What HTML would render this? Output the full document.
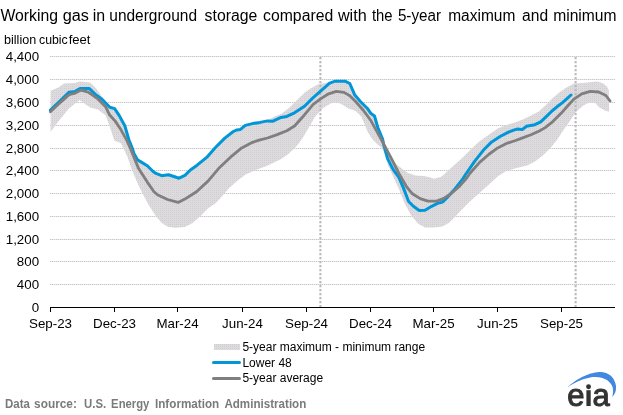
<!DOCTYPE html>
<html><head><meta charset="utf-8"><title>Working gas in underground storage</title>
<style>
html,body{margin:0;padding:0;background:#fff;}
body{width:623px;height:415px;overflow:hidden;font-family:"Liberation Sans",sans-serif;}
svg{display:block;font-family:"Liberation Sans",sans-serif;will-change:transform;}
</style></head><body>
<svg width="623" height="415" viewBox="0 0 623 415">
<defs>
<pattern id="dots" width="2" height="2" patternUnits="userSpaceOnUse"><rect width="2" height="2" fill="#dddddd"/><rect x="0" y="0" width="1" height="1" fill="#d3c9d8"/><rect x="1" y="1" width="1" height="1" fill="#d9dcd9"/></pattern>
</defs>
<rect width="623" height="415" fill="#fff"/>
<g font-size="16" fill="#000"><text x="0.40" y="21" textLength="57.60" lengthAdjust="spacingAndGlyphs">Working</text><text x="62.80" y="21" textLength="26.20" lengthAdjust="spacingAndGlyphs">gas</text><text x="92.80" y="21" textLength="12.40" lengthAdjust="spacingAndGlyphs">in</text><text x="109.30" y="21" textLength="87.70" lengthAdjust="spacingAndGlyphs">underground</text><text x="204.60" y="21" textLength="52.70" lengthAdjust="spacingAndGlyphs">storage</text><text x="263.10" y="21" textLength="70.10" lengthAdjust="spacingAndGlyphs">compared</text><text x="337.90" y="21" textLength="28.80" lengthAdjust="spacingAndGlyphs">with</text><text x="371.90" y="21" textLength="20.60" lengthAdjust="spacingAndGlyphs">the</text><text x="397.90" y="21" textLength="43.10" lengthAdjust="spacingAndGlyphs">5-year</text><text x="448.20" y="21" textLength="67.10" lengthAdjust="spacingAndGlyphs">maximum</text><text x="522.10" y="21" textLength="26.00" lengthAdjust="spacingAndGlyphs">and</text><text x="553.20" y="21" textLength="63.30" lengthAdjust="spacingAndGlyphs">minimum</text></g>
<g font-size="12" fill="#000"><text x="4.00" y="44" textLength="32.20" lengthAdjust="spacingAndGlyphs">billion</text><text x="39.00" y="44" textLength="28.70" lengthAdjust="spacingAndGlyphs">cubic</text><text x="68.70" y="44" textLength="21.80" lengthAdjust="spacingAndGlyphs">feet</text></g>
<g stroke="#e9e9e9" stroke-width="1" shape-rendering="crispEdges"><line x1="50" x2="615" y1="56.5" y2="56.5"/><line x1="50" x2="615" y1="79.5" y2="79.5"/><line x1="50" x2="615" y1="102.5" y2="102.5"/><line x1="50" x2="615" y1="125.5" y2="125.5"/><line x1="50" x2="615" y1="148.5" y2="148.5"/><line x1="50" x2="615" y1="170.5" y2="170.5"/><line x1="50" x2="615" y1="193.5" y2="193.5"/><line x1="50" x2="615" y1="216.5" y2="216.5"/><line x1="50" x2="615" y1="239.5" y2="239.5"/><line x1="50" x2="615" y1="261.5" y2="261.5"/><line x1="50" x2="615" y1="284.5" y2="284.5"/></g><g stroke="#c6c6c6" stroke-width="1" stroke-dasharray="1,1" shape-rendering="crispEdges"><line x1="50" x2="615" y1="56.5" y2="56.5"/><line x1="50" x2="615" y1="79.5" y2="79.5"/><line x1="50" x2="615" y1="102.5" y2="102.5"/><line x1="50" x2="615" y1="125.5" y2="125.5"/><line x1="50" x2="615" y1="148.5" y2="148.5"/><line x1="50" x2="615" y1="170.5" y2="170.5"/><line x1="50" x2="615" y1="193.5" y2="193.5"/><line x1="50" x2="615" y1="216.5" y2="216.5"/><line x1="50" x2="615" y1="239.5" y2="239.5"/><line x1="50" x2="615" y1="261.5" y2="261.5"/><line x1="50" x2="615" y1="284.5" y2="284.5"/></g>
<polygon points="50.6,90.8 58.3,87.4 64.1,83.5 74.7,83.1 79.6,81.6 90.2,82.5 96.0,88.3 103.7,98.9 109.5,107.0 114.3,109.5 119.1,116.5 124.9,126.5 128.8,140.0 133.8,153.5 137.6,160.5 147.3,166.3 153.1,172.0 161.7,176.2 168.5,175.5 179.1,178.8 184.9,176.0 190.4,170.8 197.1,166.0 206.7,158.2 215.2,148.5 224.8,138.9 233.3,132.3 236.9,130.7 240.5,130.2 245.3,126.2 252.5,124.2 260.0,122.8 267.5,120.5 273.3,117.0 281.0,114.1 288.8,108.3 296.5,100.6 304.5,92.8 311.2,88.0 318.9,84.1 326.7,82.8 335.3,81.5 345.0,81.5 349.8,84.0 354.6,95.0 360.4,102.0 367.2,108.8 371.0,114.0 374.5,116.5 377.8,128.0 382.6,139.5 384.7,148.9 392.4,161.5 400.2,167.3 407.9,173.1 415.6,175.4 423.3,176.0 429.1,176.9 433.9,178.8 440.7,176.9 443.4,175.0 453.1,166.0 462.7,157.6 471.2,149.1 479.6,141.3 488.1,135.3 497.7,128.6 506.0,125.1 515.6,122.2 523.3,119.3 531.0,115.4 538.8,111.6 546.5,104.5 552.3,98.5 558.6,93.0 566.3,87.5 574.0,83.6 581.7,82.9 589.4,82.2 597.2,81.5 603.0,83.2 607.3,87.0 608.9,90.5 609.1,111.7 604.9,110.5 599.1,107.3 594.3,102.0 589.4,102.4 583.7,105.3 575.9,112.1 570.1,120.8 562.4,131.4 558.0,138.6 550.3,148.2 542.6,155.8 534.9,161.6 527.2,165.4 515.6,168.3 506.0,171.2 498.2,176.0 488.6,184.7 478.9,193.4 469.3,202.1 459.6,211.7 454.9,216.9 449.1,222.7 442.4,226.6 433.7,227.5 425.0,227.5 418.2,223.7 411.5,216.0 404.7,203.4 398.9,188.9 393.2,176.4 388.3,165.8 384.5,153.5 381.6,147.8 378.0,144.8 373.8,141.0 370.5,136.6 367.5,131.6 364.5,124.0 361.3,116.6 355.6,111.0 347.9,108.2 342.1,104.4 336.3,102.1 330.5,103.4 322.8,108.2 315.1,116.5 308.3,128.5 302.5,138.3 296.5,146.3 288.0,154.3 281.2,159.0 273.5,162.8 266.0,166.2 257.0,169.5 246.0,174.2 238.6,179.8 228.9,188.2 219.3,199.5 215.8,203.0 208.0,208.6 200.3,216.3 192.6,223.1 184.9,226.9 175.2,227.7 167.7,226.7 161.5,222.8 155.8,216.1 149.0,205.5 142.5,193.6 137.0,182.0 131.9,169.8 127.5,157.0 121.0,143.3 114.3,140.4 109.5,126.0 105.6,115.3 97.9,109.6 90.2,107.6 83.4,102.8 79.6,99.9 68.9,108.6 59.3,120.2 53.5,127.9 50.6,131.7" fill="url(#dots)"/>
<g stroke="#bababa" stroke-width="2.1" stroke-dasharray="2.3,1.7" fill="none"><line x1="320.4" x2="320.4" y1="57" y2="307"/><line x1="575.6" x2="575.6" y1="57" y2="307"/></g>
<polyline points="50.4,110.2 60.7,100.3 69.1,92.2 75.2,91.4 80.0,88.6 89.4,88.6 95.0,94.1 102.0,99.2 109.8,107.3 114.6,108.6 119.3,115.6 124.9,126.0 128.8,139.5 132.6,149.1 133.8,153.2 137.6,159.9 147.3,165.7 153.1,171.5 156.0,173.4 161.7,175.7 168.5,174.8 179.1,178.2 184.9,175.3 190.4,170.0 197.1,165.2 206.7,157.4 215.2,147.7 224.8,138.1 233.3,131.5 236.9,129.9 240.5,129.4 245.3,125.4 252.5,123.6 260.0,122.4 267.5,120.9 272.4,121.3 281.0,117.4 286.8,116.4 294.5,112.8 304.5,106.3 313.2,97.6 320.9,90.9 329.6,83.2 335.3,81.2 345.0,81.2 349.8,83.5 354.6,94.7 360.4,101.5 367.2,108.2 371.0,113.6 374.5,116.0 377.8,127.5 382.6,139.1 383.8,145.1 387.6,158.6 393.2,169.6 398.9,177.4 403.8,188.9 408.6,201.5 413.4,206.3 419.2,210.5 425.0,210.2 431.7,206.3 437.5,203.4 442.4,202.1 447.2,197.6 454.9,188.9 462.6,179.3 465.2,175.0 474.8,161.2 483.3,150.3 491.7,141.9 500.1,136.5 508.5,132.2 513.0,130.4 517.0,129.1 522.2,129.6 526.5,126.2 534.9,124.7 540.7,121.8 546.5,116.3 552.0,111.0 557.0,106.8 562.5,102.6 567.0,98.7 571.0,95.0" fill="none" stroke="#0096d7" stroke-width="3" stroke-linejoin="round" stroke-linecap="round"/>
<polyline points="50.4,111.8 60.7,102.1 69.1,94.6 75.2,93.1 81.2,90.1 88.2,92.2 97.9,98.9 105.6,106.7 109.5,114.8 115.2,121.1 121.0,129.8 126.8,140.4 130.7,149.1 138.6,168.6 147.3,182.1 154.0,191.7 157.9,195.0 167.5,199.5 178.1,202.4 184.9,199.1 196.5,191.7 208.0,181.1 218.8,168.3 230.8,156.9 241.7,147.9 252.5,142.3 260.0,139.9 267.5,138.0 277.2,134.6 286.8,130.8 294.5,126.0 304.2,115.2 313.2,104.4 320.9,98.6 328.6,93.8 336.3,91.3 344.0,92.4 349.8,95.7 355.6,101.5 363.3,110.2 371.0,120.8 376.8,131.4 381.6,140.0 384.7,146.0 392.4,160.5 398.9,173.5 406.7,187.0 412.4,193.8 420.2,198.6 427.9,201.1 436.6,201.1 443.3,198.6 451.0,193.8 458.8,187.0 466.5,178.3 470.0,173.3 479.6,162.4 489.3,154.0 497.7,147.9 507.4,143.1 515.6,140.5 523.3,137.6 531.0,134.7 539.3,131.0 545.2,127.6 552.8,121.6 561.3,113.1 568.5,105.0 573.9,99.1 581.8,93.9 590.2,91.3 598.7,92.0 605.9,95.5 610.1,101.0" fill="none" stroke="#7f7f7f" stroke-width="2.8" stroke-linejoin="round" stroke-linecap="round"/>
<g stroke="#000" stroke-width="1" shape-rendering="crispEdges"><line x1="50" x2="615" y1="307.5" y2="307.5"/><line x1="50.5" x2="50.5" y1="307" y2="312"/><line x1="114.5" x2="114.5" y1="307" y2="312"/><line x1="177.5" x2="177.5" y1="307" y2="312"/><line x1="242.5" x2="242.5" y1="307" y2="312"/><line x1="306.5" x2="306.5" y1="307" y2="312"/><line x1="370.5" x2="370.5" y1="307" y2="312"/><line x1="433.5" x2="433.5" y1="307" y2="312"/><line x1="497.5" x2="497.5" y1="307" y2="312"/><line x1="561.5" x2="561.5" y1="307" y2="312"/></g>
<g font-size="13.33" fill="#000"><text x="39.1" y="60.8" text-anchor="end">4,400</text><text x="39.1" y="83.8" text-anchor="end">4,000</text><text x="39.1" y="106.8" text-anchor="end">3,600</text><text x="39.1" y="129.8" text-anchor="end">3,200</text><text x="39.1" y="152.8" text-anchor="end">2,800</text><text x="39.1" y="174.8" text-anchor="end">2,400</text><text x="39.1" y="197.8" text-anchor="end">2,000</text><text x="39.1" y="220.8" text-anchor="end">1,600</text><text x="39.1" y="243.8" text-anchor="end">1,200</text><text x="39.1" y="265.8" text-anchor="end">800</text><text x="39.1" y="288.8" text-anchor="end">400</text><text x="39.1" y="311.8" text-anchor="end">0</text><text x="50.5" y="328.1" text-anchor="middle">Sep-23</text><text x="114.5" y="328.1" text-anchor="middle">Dec-23</text><text x="177.5" y="328.1" text-anchor="middle">Mar-24</text><text x="242.5" y="328.1" text-anchor="middle">Jun-24</text><text x="306.5" y="328.1" text-anchor="middle">Sep-24</text><text x="370.5" y="328.1" text-anchor="middle">Dec-24</text><text x="433.5" y="328.1" text-anchor="middle">Mar-25</text><text x="497.5" y="328.1" text-anchor="middle">Jun-25</text><text x="561.5" y="328.1" text-anchor="middle">Sep-25</text></g>
<rect x="214" y="344" width="26" height="6" fill="url(#dots)"/>
<line x1="213.5" x2="239.5" y1="362.5" y2="362.5" stroke="#0096d7" stroke-width="3" stroke-linecap="round"/>
<line x1="213.5" x2="239.5" y1="378.5" y2="378.5" stroke="#7f7f7f" stroke-width="3" stroke-linecap="round"/>
<g font-size="12" fill="#000"><text x="242.4" y="351">5-year maximum - minimum range</text><text x="242.4" y="366.6">Lower 48</text><text x="242.4" y="382.4">5-year average</text></g>
<g font-size="12" font-weight="bold" fill="#7a7a7a"><text x="5.00" y="408.4" textLength="24.90" lengthAdjust="spacingAndGlyphs">Data</text><text x="34.10" y="408.4" textLength="42.80" lengthAdjust="spacingAndGlyphs">source:</text><text x="84.10" y="408.4" textLength="22.10" lengthAdjust="spacingAndGlyphs">U.S.</text><text x="111.10" y="408.4" textLength="38.30" lengthAdjust="spacingAndGlyphs">Energy</text><text x="155.00" y="408.4" textLength="64.20" lengthAdjust="spacingAndGlyphs">Information</text><text x="224.40" y="408.4" textLength="81.90" lengthAdjust="spacingAndGlyphs">Administration</text></g>
<path d="M568.1,386.4 C569.60,385.28 574.00,381.62 577.10,379.70 C580.20,377.78 583.88,376.07 586.70,374.90 C589.52,373.73 591.78,373.18 594.00,372.70 C596.22,372.22 598.00,371.95 600.00,372.00 C602.00,372.05 604.20,372.37 606.00,373.00 C607.80,373.63 609.40,374.52 610.80,375.80 C612.20,377.08 613.53,378.98 614.40,380.70 C615.27,382.42 615.83,384.20 616.00,386.10 C616.17,388.00 616.02,390.23 615.40,392.10 C614.78,393.97 612.82,396.43 612.30,397.30 C612.42,396.43 612.95,393.77 613.00,392.10 C613.05,390.43 613.00,388.73 612.60,387.30 C612.20,385.87 611.53,384.72 610.60,383.50 C609.67,382.28 608.37,380.93 607.00,380.00 C605.63,379.07 603.97,378.37 602.40,377.90 C600.83,377.43 599.62,377.28 597.60,377.20 C595.58,377.12 592.92,376.98 590.30,377.40 C587.68,377.82 584.50,378.75 581.90,379.70 C579.30,380.65 577.00,381.90 574.70,383.10 C572.40,384.30 569.20,386.27 568.10,386.90 Z" fill="#4287e0"/><g font-size="31" fill="#333" stroke="#333" stroke-width="1.05" stroke-linejoin="round"><text x="567.2" y="406">e</text><text x="592.6" y="406">a</text></g><rect x="586.4" y="390.2" width="4.3" height="15.8" fill="#333"/><circle cx="588.55" cy="386.7" r="2.45" fill="#333"/>
</svg>
</body></html>
